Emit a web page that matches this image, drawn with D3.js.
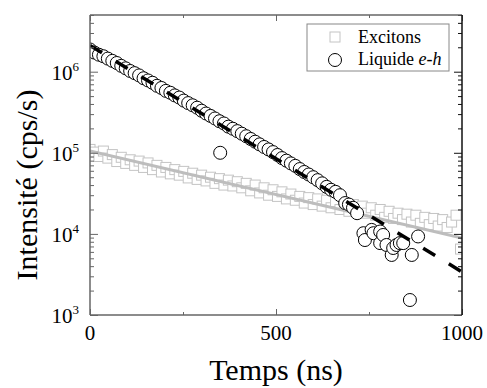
<!DOCTYPE html>
<html><head><meta charset="utf-8">
<script src="https://cdn.jsdelivr.net/npm/d3@7"></script>
<style>
body{margin:0;background:#fff}
svg{display:block}
</style></head>
<body><svg id="c" width="487" height="388" font-family="'Liberation Serif', 'DejaVu Serif', 'Times New Roman', serif"></svg>
<script>
// ---- data ----
const excitonTimes = [0,12,24,36,48,60,72,84,96,108,120,132,144,156,168,180,192,204,216,228,240,252,264,276,288,300,312,324,336,348,360,372,384,396,408,420,432,444,456,468,480,492,504,516,528,540,552,564,576,588,600,612,624,636,648,660,672,684,696,708,720,732,744,756,768,780,792,804,816,828,840,852,864,876,888,900,912,924,936,948,960,972,984,996];
const excitonValues = [1.10e5,1.02e5,9.0e4,1.05e5,8.6e4,9.5e4,7.8e4,8.8e4,7.4e4,8.2e4,7.0e4,7.9e4,6.6e4,7.5e4,6.2e4,7.0e4,5.8e4,6.6e4,5.5e4,6.2e4,5.3e4,5.9e4,4.9e4,5.6e4,4.7e4,5.3e4,4.5e4,5.0e4,4.2e4,4.8e4,4.0e4,4.6e4,3.9e4,4.4e4,3.7e4,4.2e4,3.4e4,4.0e4,3.2e4,3.7e4,3.0e4,3.5e4,2.9e4,3.3e4,2.7e4,3.1e4,2.6e4,2.9e4,2.4e4,2.8e4,2.3e4,2.7e4,2.2e4,2.6e4,2.1e4,2.5e4,2.0e4,2.4e4,1.9e4,2.3e4,1.85e4,2.2e4,1.8e4,2.1e4,1.7e4,2.0e4,1.6e4,1.9e4,1.55e4,1.8e4,1.5e4,1.75e4,1.4e4,1.7e4,1.35e4,1.6e4,1.3e4,1.55e4,1.25e4,1.5e4,1.2e4,1.4e4,1.7e4,6.5e3];
const liquideTimes = [0,12,24,36,48,60,72,84,96,108,120,132,144,156,168,180,192,204,216,228,240,252,264,276,288,300,312,324,336,348,350,360,372,384,396,408,420,432,444,456,468,480,492,504,516,528,540,552,564,576,588,600,612,624,636,648,660,672,686,696,707,718,735,739,757,762,780,780,788,797,811,815,824,833,842,860,865,882];
const liquideValues = [1.88e6,1.72e6,1.62e6,1.55e6,1.45e6,1.36e6,1.28e6,1.18e6,1.10e6,1.02e6,9.6e5,9.0e5,8.3e5,7.8e5,7.3e5,6.7e5,6.3e5,5.8e5,5.5e5,5.1e5,4.8e5,4.4e5,4.1e5,3.85e5,3.6e5,3.3e5,3.05e5,2.85e5,2.65e5,2.45e5,1.0e5,2.3e5,2.1e5,1.98e5,1.85e5,1.72e5,1.6e5,1.48e5,1.37e5,1.27e5,1.18e5,1.10e5,1.02e5,9.4e4,8.6e4,8.0e4,7.4e4,6.9e4,6.3e4,5.8e4,5.4e4,5.0e4,4.6e4,4.2e4,3.8e4,3.5e4,3.3e4,3.0e4,2.4e4,2.3e4,2.1e4,1.8e4,1.02e4,8.4e3,1.12e4,1.02e4,1.07e4,7.7e3,9.7e3,7.3e3,5.5e3,6.7e3,7.3e3,7.7e3,7.7e3,1.53e3,5.5e3,9.3e3];
const excitonFitT = [0,1000], excitonFitV = [1.05e5,8.9e3];
const liquideFitT = [0,1000], liquideFitV = [2.1e6,3.4e3];
const xTickValues = [0,500,1000];
const xMinorValues = [250,750];
const yTickExponents = [3,4,5,6];
const legendLabels = ["Excitons","Liquide "];
const xTitle = "Temps (ns)", yTitle = "Intensité (cps/s)";

// ---- layout ----
const L=90,R=462,T=15,B=315;
const svg=d3.select("#c");
const x=d3.scaleLinear().domain([0,1000]).range([L,R]);
const y=d3.scaleLog().domain([1e3,5e6]).range([B,T]);

svg.append("defs").append("clipPath").attr("id","clip")
  .append("rect").attr("x",L).attr("y",T).attr("width",R-L).attr("height",B-T);
const plot=svg.append("g").attr("clip-path","url(#clip)");

// excitons squares
const sq=10;
plot.selectAll("rect.ex").data(excitonTimes).join("rect").attr("class","ex")
  .attr("x",(d)=>x(d)-sq/2).attr("y",(d,i)=>y(excitonValues[i])-sq/2)
  .attr("width",sq).attr("height",sq)
  .attr("fill","#fff").attr("stroke","#c4c4c4").attr("stroke-width",1);

const line=d3.line().x(d=>x(d[0])).y(d=>y(d[1]));
plot.append("path").datum(excitonFitT.map((t,i)=>[t,excitonFitV[i]]))
  .attr("d",line).attr("fill","none").attr("stroke","#bdbdbd").attr("stroke-width",3);

// liquide circles
plot.selectAll("circle.lq").data(liquideTimes).join("circle").attr("class","lq")
  .attr("cx",d=>x(d)).attr("cy",(d,i)=>y(liquideValues[i])).attr("r",6.5)
  .attr("fill","#fff").attr("stroke","#000").attr("stroke-width",1);

plot.append("path").datum(liquideFitT.map((t,i)=>[t,liquideFitV[i]]))
  .attr("d",line).attr("fill","none").attr("stroke","#000").attr("stroke-width",3.5)
  .attr("stroke-dasharray","14,16");

// ---- axes ----
const axCol="#666";
function styleAxis(g,col){g.select(".domain").remove();g.selectAll("line").attr("stroke",col||axCol);g.selectAll("text").remove();}
svg.append("g").attr("transform",`translate(0,${B})`).call(d3.axisBottom(x).tickValues(xTickValues).tickSizeInner(-6).tickSizeOuter(0)).call(g=>styleAxis(g));
svg.append("g").attr("transform",`translate(0,${B})`).call(d3.axisBottom(x).tickValues(xMinorValues).tickSizeInner(-3).tickSizeOuter(0)).call(g=>styleAxis(g));
svg.append("g").attr("transform",`translate(0,${T})`).call(d3.axisTop(x).tickValues(xTickValues).tickSizeInner(-6).tickSizeOuter(0)).call(g=>styleAxis(g));
svg.append("g").attr("transform",`translate(0,${T})`).call(d3.axisTop(x).tickValues(xMinorValues).tickSizeInner(-3).tickSizeOuter(0)).call(g=>styleAxis(g));
const yMinor=[];
for(let e=3;e<=6;e++)for(let m=2;m<=9;m++){const v=m*Math.pow(10,e);if(v<=5e6)yMinor.push(v);}
const yMajor=yTickExponents.map(e=>Math.pow(10,e));
svg.append("g").attr("transform",`translate(${L},0)`).call(d3.axisLeft(y).tickValues(yMajor).tickSizeInner(-8).tickSizeOuter(0)).call(g=>styleAxis(g));
svg.append("g").attr("transform",`translate(${L},0)`).call(d3.axisLeft(y).tickValues(yMinor).tickSizeInner(-4).tickSizeOuter(0)).call(g=>styleAxis(g));
svg.append("g").attr("transform",`translate(${R},0)`).call(d3.axisRight(y).tickValues(yMajor).tickSizeInner(-8).tickSizeOuter(0)).call(g=>styleAxis(g,"#111"));
svg.append("g").attr("transform",`translate(${R},0)`).call(d3.axisRight(y).tickValues(yMinor).tickSizeInner(-4).tickSizeOuter(0)).call(g=>styleAxis(g,"#111"));

// frame
svg.append("line").attr("x1",L).attr("x2",R).attr("y1",T).attr("y2",T).attr("stroke",axCol).attr("stroke-width",1.5);
svg.append("line").attr("x1",L).attr("x2",R).attr("y1",B).attr("y2",B).attr("stroke",axCol).attr("stroke-width",1.5);
svg.append("line").attr("x1",L).attr("x2",L).attr("y1",T).attr("y2",B).attr("stroke",axCol).attr("stroke-width",1.5);
svg.append("line").attr("x1",R).attr("x2",R).attr("y1",T).attr("y2",B).attr("stroke","#111").attr("stroke-width",1.5);

// tick labels
svg.selectAll("text.xt").data(xTickValues).join("text").attr("class","xt")
  .attr("x",d=>x(d)).attr("y",340).attr("text-anchor","middle").attr("font-size",21).text(d=>d);
const yl=svg.selectAll("text.yt").data(yTickExponents).join("text").attr("class","yt")
  .attr("x",79).attr("y",d=>y(Math.pow(10,d))+8).attr("text-anchor","end").attr("font-size",21);
yl.append("tspan").text("10");
yl.append("tspan").attr("font-size",13).attr("dy",-9).text(d=>d);

// titles
svg.append("text").attr("x",(L+R)/2).attr("y",380).attr("text-anchor","middle").attr("font-size",30).text(xTitle);
svg.append("text").attr("transform","translate(37,185) rotate(-90)").attr("text-anchor","middle").attr("font-size",30).text(yTitle);

// legend
const lg=svg.append("g");
lg.append("rect").attr("x",307).attr("y",24).attr("width",142).attr("height",47).attr("fill","#fff").attr("stroke","#888").attr("stroke-width",1);
lg.append("rect").attr("x",330).attr("y",32).attr("width",10).attr("height",10).attr("fill","#fff").attr("stroke","#c4c4c4");
lg.append("circle").attr("cx",335).attr("cy",60).attr("r",6.5).attr("fill","#fff").attr("stroke","#000");
lg.append("text").attr("x",358).attr("y",43).attr("font-size",18).text(legendLabels[0]);
const t2=lg.append("text").attr("x",358).attr("y",65).attr("font-size",18);
t2.append("tspan").text(legendLabels[1]);
t2.append("tspan").attr("font-style","italic").text("e-h");
</script></body></html>
